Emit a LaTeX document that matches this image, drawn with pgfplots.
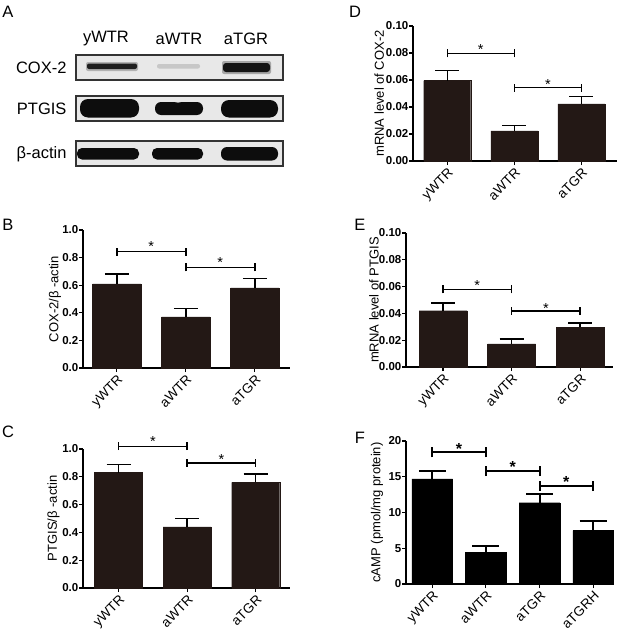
\documentclass[border=0pt]{standalone}
\usepackage{fontspec}
\setmainfont{Liberation Sans}
\usepackage{pgfplots}
\pgfplotsset{compat=1.18}
\definecolor{barbrown}{HTML}{231815}

\newcommand{\fs}[1]{\fontsize{#1bp}{#1bp}\selectfont}
% significance bracket: x1, x2, y of line, y of star centre
\newcommand{\sig}[4]{%
  \draw[line width=1.4bp] (axis cs:#1,#3) -- (axis cs:#2,#3);
  \draw[line width=1.4bp] ([yshift=-4bp]axis cs:#1,#3) -- ([yshift=4bp]axis cs:#1,#3);
  \draw[line width=1.4bp] ([yshift=-4bp]axis cs:#2,#3) -- ([yshift=4bp]axis cs:#2,#3);
  \node[anchor=base, yshift=-8.3bp, inner sep=0pt, font=\fs{14.5}] at (axis cs:{(#1+#2)/2},#4) {*};}
\newcommand{\sigF}[4]{%
  \draw[line width=2bp] (axis cs:#1,#3) -- (axis cs:#2,#3);
  \draw[line width=2bp] ([yshift=-5bp]axis cs:#1,#3) -- ([yshift=5bp]axis cs:#1,#3);
  \draw[line width=2bp] ([yshift=-5bp]axis cs:#2,#3) -- ([yshift=5bp]axis cs:#2,#3);
  \node[anchor=base, yshift=-9bp, inner sep=0pt, font=\bfseries\fs{16}] at (axis cs:{(#1+#2)/2},#4) {*};}

\pgfplotsset{
  panel/.style={
    scale only axis, clip=false, anchor=south west,
    axis lines=left, axis line style={-, line width=1.1bp, black},
    major tick style={line width=1.1bp, black},
    major tick length=4bp, tick align=outside,
    ymin=0, enlargelimits=false,
    xtick={0,1,2}, xticklabels={yWTR,aWTR,aTGR},
    scaled y ticks=false,
    /pgf/number format/assume math mode=true,
    yticklabel style={font=\bfseries\fs{11.5}, inner sep=0.5bp},
    xticklabel style={rotate=45, anchor=north east, font=\fs{13.5}, inner sep=1.5bp},
    ylabel style={font=\fs{13}, anchor=center},
  },
  brownbar/.style={ybar, bar width=0.7, fill=barbrown, draw=barbrown,
    error bars/.cd, y dir=plus, y explicit,
    error bar style={line width=1.4bp, black},
    error mark options={rotate=90, line width=1.4bp, mark size=12bp, black}},
}

\begin{document}
\begin{tikzpicture}
\useasboundingbox (0,0) rectangle (625bp,-636bp);

% ---------- panel A: blot ----------
\begin{scope}[x=1bp, y=-1bp]
\node[font=\fs{16.5}] at (8,12) {A};
\node[font=\fs{16.5}] at (106,39) {yWTR};
\node[font=\fs{16.5}] at (179,39) {aWTR};
\node[font=\fs{16.5}] at (246,39) {aTGR};
\node[font=\fs{16.5}, anchor=east] at (70,68) {COX-2};
\node[font=\fs{16.5}, anchor=east] at (70,109) {PTGIS};
\node[font=\fs{16.5}, anchor=east] at (70,154) {β-actin};
\foreach \t in {55,96,141}
  \draw[line width=1.4bp, black!80, fill=black!9] (76,\t) rectangle (283,\t+25);
% COX-2
\fill[black!30, rounded corners=2bp] (86,62) rectangle (138,71);
\fill[black!88, rounded corners=2bp] (87,63.5) rectangle (137,69);
\fill[black!22, rounded corners=2bp] (157,64) rectangle (200,68.5);
\fill[black!35, rounded corners=2bp] (222,61) rectangle (271,74);
\fill[black!92, rounded corners=3bp] (223,63) rectangle (270,72);
% PTGIS
\fill[black!95, rounded corners=8bp] (80,99) rectangle (139,117.5);
\fill[black!95, rounded corners=6bp] (155,102) rectangle (203,115);
\fill[black!95, rounded corners=8bp] (221,100) rectangle (278,117.5);
\fill[black!9] (178,101) ellipse (4bp and 1.6bp);
% beta-actin
\fill[black!95, rounded corners=5bp] (77,148) rectangle (139,159.5);
\fill[black!95, rounded corners=5bp] (152,148) rectangle (203,159.5);
\fill[black!95, rounded corners=6bp] (221,147) rectangle (278,160.5);
% panel letters
\node[font=\fs{16.5}] at (8,225) {B};
\node[font=\fs{16.5}] at (8,432) {C};
\node[font=\fs{16.5}] at (355,12) {D};
\node[font=\fs{16.5}] at (360,225) {E};
\node[font=\fs{16.5}] at (360,438) {F};
\end{scope}

% ---------- panel B ----------
\begin{axis}[panel, at={(83bp,-368bp)}, width=207bp, height=138bp,
  xmin=-0.49, xmax=2.51, ymax=1.0, ytick={0,0.2,...,1.0},
  yticklabel style={/pgf/number format/.cd, fixed, fixed zerofill, precision=1},
  ylabel={COX-2/β -actin},
  ylabel style={at={(axis description cs:-0.135,0.5)}}]
\addplot[brownbar] coordinates {(0,0.61) +- (0,0.07) (1,0.37) +- (0,0.06) (2,0.58) +- (0,0.07)};
\sig{0}{1}{0.843}{0.904}
\sig{1}{2}{0.73}{0.79}
\end{axis}

% ---------- panel C ----------
\begin{axis}[panel, at={(83bp,-588bp)}, width=207bp, height=139bp,
  xmin=-0.52, xmax=2.5, ymax=1.0, ytick={0,0.2,...,1.0},
  yticklabel style={/pgf/number format/.cd, fixed, fixed zerofill, precision=1},
  ylabel={PTGIS/β -actin},
  ylabel style={at={(axis description cs:-0.143,0.5)}}]
\addplot[brownbar] coordinates {(0,0.83) +- (0,0.06) (1,0.44) +- (0,0.06) (2,0.76) +- (0,0.06)};
\sig{0}{1}{1.02}{1.08}
\sig{1}{2}{0.90}{0.947}
\end{axis}

% ---------- panel D ----------
\begin{axis}[panel, at={(413bp,-161bp)}, width=204bp, height=135bp,
  xmin=-0.51, xmax=2.53, ymax=0.10, ytick={0,0.02,0.04,0.06,0.08,0.10},
  yticklabel style={/pgf/number format/.cd, fixed, fixed zerofill, precision=2},
  ylabel={mRNA level of COX-2},
  ylabel style={at={(axis description cs:-0.165,0.5)}}]
\addplot[brownbar] coordinates {(0,0.0596) +- (0,0.0076) (1,0.0224) +- (0,0.0037) (2,0.0424) +- (0,0.0056)};
\sig{0}{1}{0.0798}{0.085}
\sig{1}{2}{0.0544}{0.059}
\end{axis}

% ---------- panel E ----------
\begin{axis}[panel, at={(406bp,-367bp)}, width=207bp, height=134bp,
  xmin=-0.54, xmax=2.48, ymax=0.10, ytick={0,0.02,0.04,0.06,0.08,0.10},
  yticklabel style={/pgf/number format/.cd, fixed, fixed zerofill, precision=2},
  ylabel={mRNA level of PTGIS},
  ylabel style={at={(axis description cs:-0.155,0.5)}}]
\addplot[brownbar] coordinates {(0,0.042) +- (0,0.0058) (1,0.0173) +- (0,0.0035) (2,0.0295) +- (0,0.0032)};
\sig{0}{1}{0.058}{0.0636}
\sig{1}{2}{0.0418}{0.0463}
\end{axis}

% ---------- panel F ----------
\begin{axis}[panel, at={(406bp,-584bp)}, width=207bp, height=143bp,
  xmin=-0.49, xmax=3.37, ymax=20, ytick={0,5,10,15,20},
  xtick={0,1,2,3}, xticklabels={yWTR,aWTR,aTGR,aTGRH},
  ylabel={cAMP (pmol/mg protein)},
  ylabel style={at={(axis description cs:-0.14,0.5)}}]
\addplot[ybar, bar width=0.76, fill=black, draw=black,
  error bars/.cd, y dir=plus, y explicit,
  error bar style={line width=2bp, black},
  error mark options={rotate=90, line width=2bp, mark size=13.5bp, black}]
  coordinates {(0,14.7) +- (0,1.15) (1,4.43) +- (0,0.93) (2,11.37) +- (0,1.22) (3,7.46) +- (0,1.35)};
\sigF{0}{1}{18.4}{19.4}
\sigF{1}{2}{15.8}{16.9}
\sigF{2}{3}{13.7}{14.8}
\end{axis}
\end{tikzpicture}
\end{document}
